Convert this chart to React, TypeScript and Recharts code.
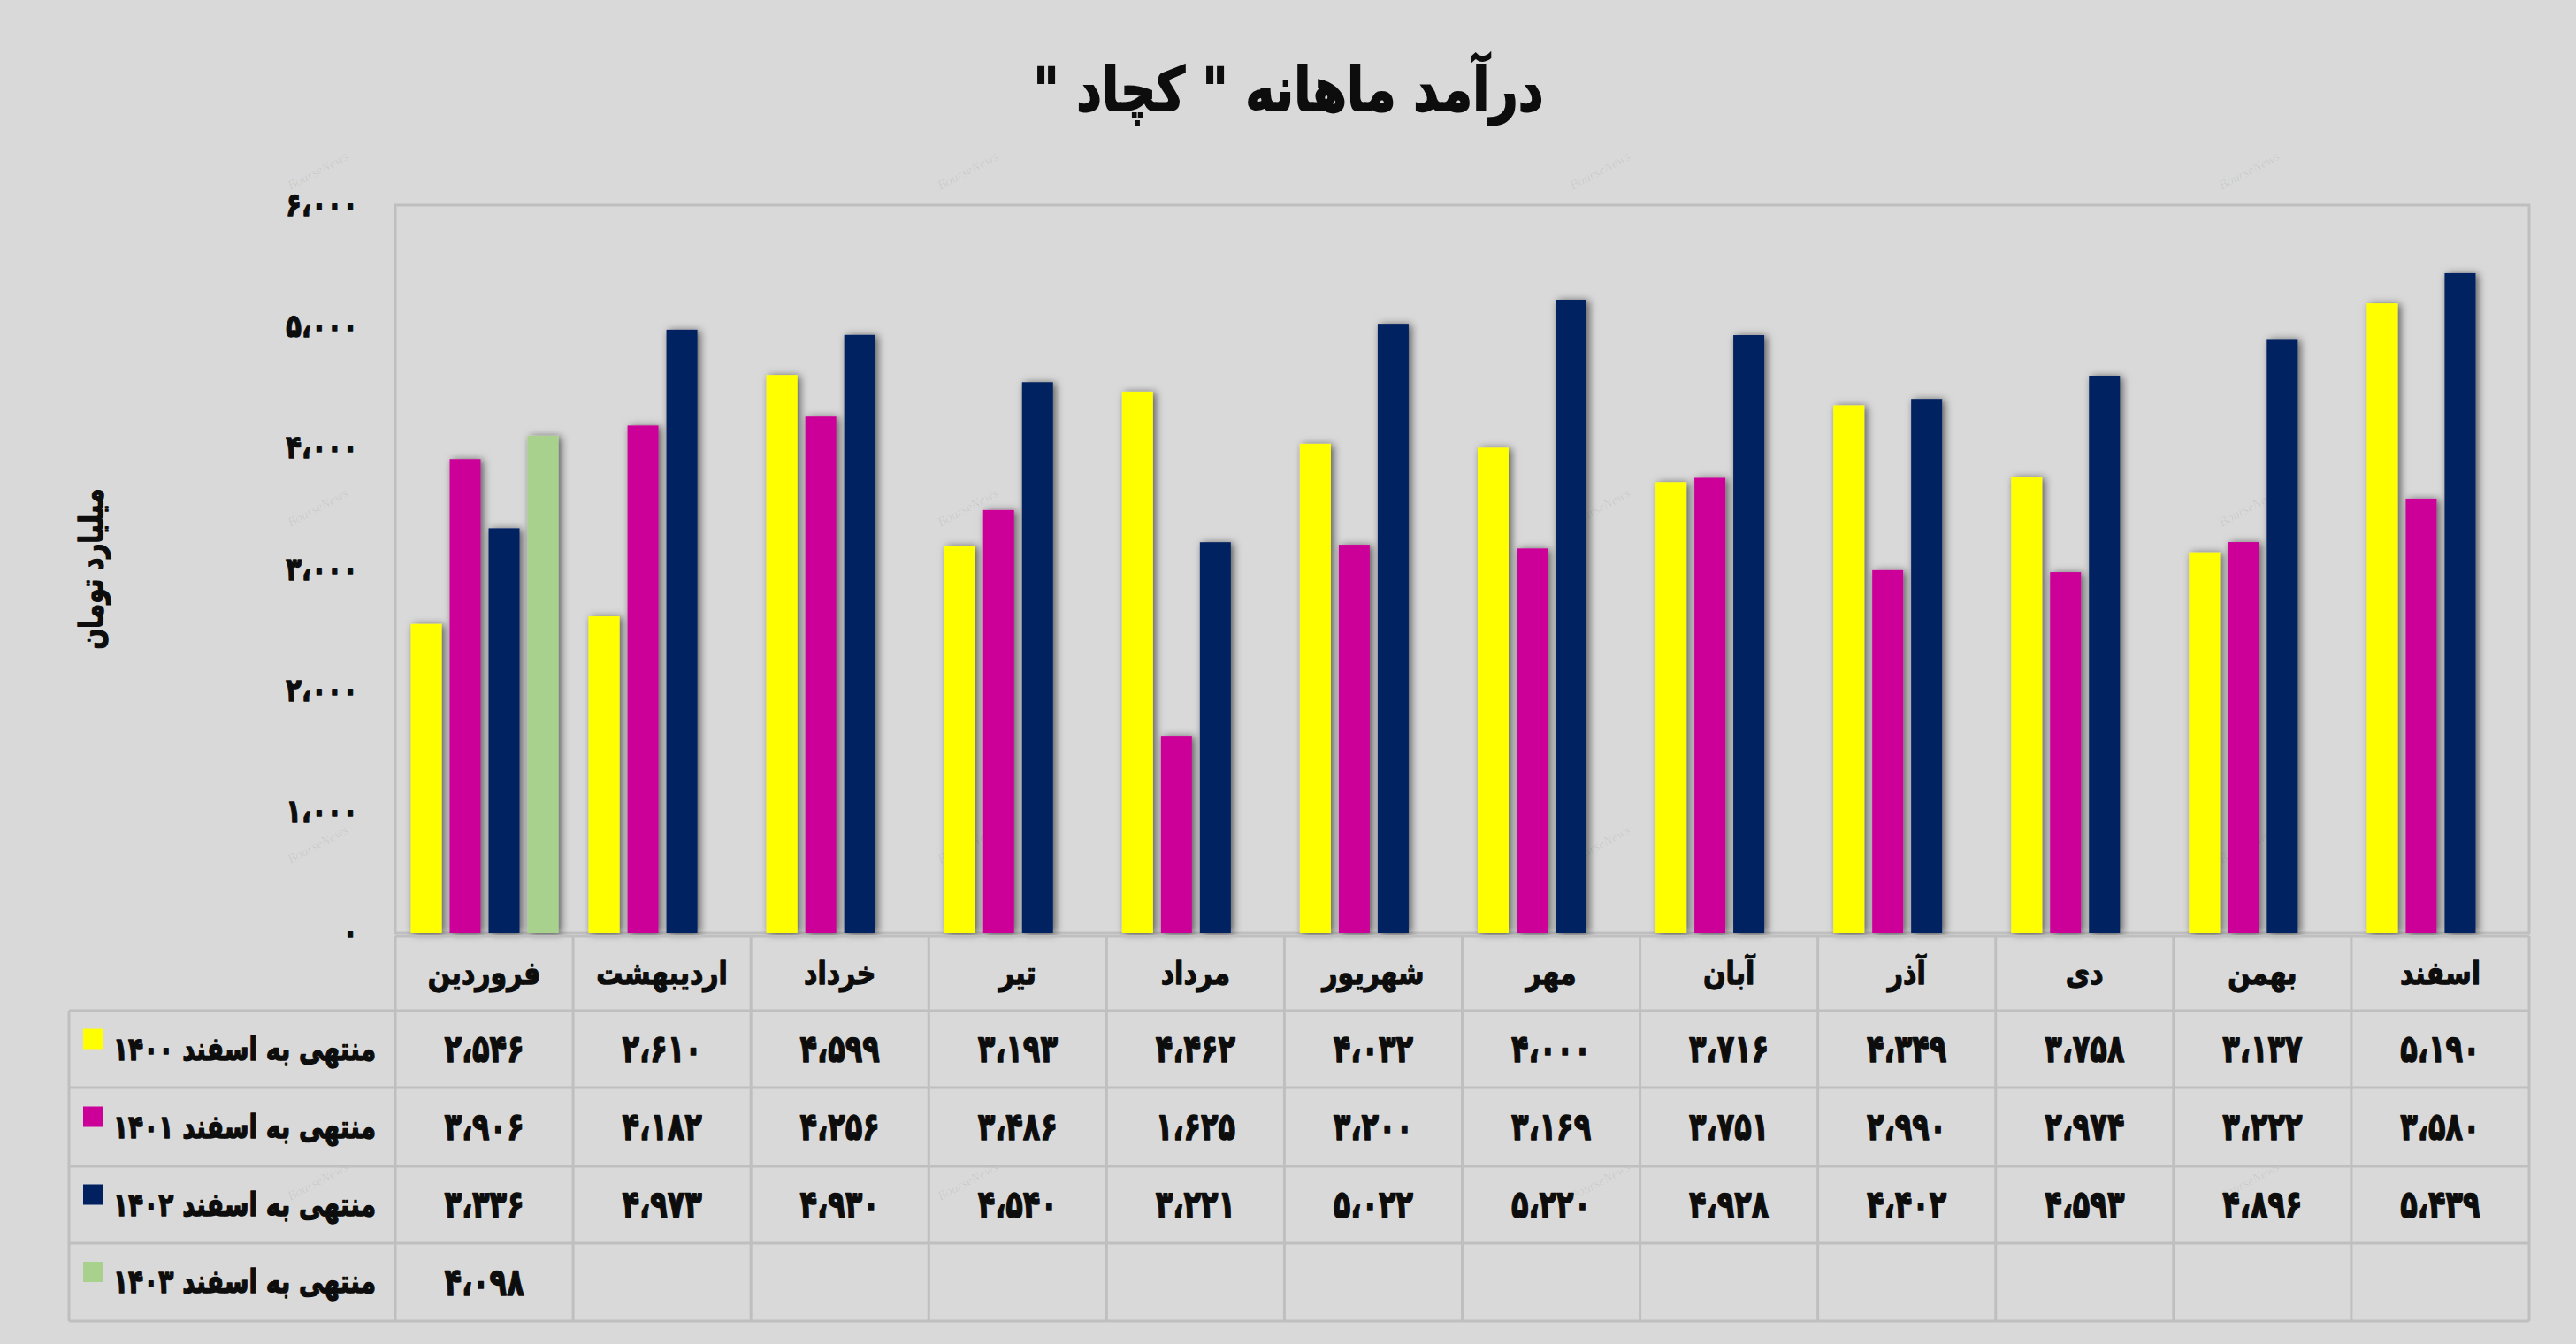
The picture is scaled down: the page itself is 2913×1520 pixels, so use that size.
import React from 'react';
import { BarChart, Bar, XAxis, YAxis, ReferenceArea } from 'recharts';

// ---------- data ----------
const months = ['فروردین', 'اردیبهشت', 'خرداد', 'تیر', 'مرداد', 'شهریور', 'مهر', 'آبان', 'آذر', 'دی', 'بهمن', 'اسفند'];
const s1400 = [2546, 2610, 4599, 3193, 4462, 4032, 4000, 3716, 4349, 3758, 3137, 5190];
const s1401 = [3906, 4182, 4256, 3486, 1625, 3200, 3169, 3751, 2990, 2974, 3222, 3580];
const s1402 = [3336, 4973, 4930, 4540, 3221, 5022, 5220, 4928, 4402, 4593, 4896, 5439];
const s1403 = [4098, null, null, null, null, null, null, null, null, null, null, null];
const seriesNames = ['منتهی به اسفند ۱۴۰۰', 'منتهی به اسفند ۱۴۰۱', 'منتهی به اسفند ۱۴۰۲', 'منتهی به اسفند ۱۴۰۳'];
const seriesKeys = ['y1400', 'y1401', 'y1402', 'y1403'];
const seriesColors = ['#FFFF00', '#CC0099', '#002060', '#A9D18E'];
const yTicks = [0, 1000, 2000, 3000, 4000, 5000, 6000];
const titleText = 'درآمد ماهانه " کچاد "';
const yAxisTitle = 'میلیارد تومان';
const watermark = 'BourseNews';

const seriesValues = [s1400, s1401, s1402, s1403];
const data = months.map((m, i) => ({
  month: m,
  y1400: s1400[i],
  y1401: s1401[i],
  y1402: s1402[i],
  y1403: s1403[i],
}));

// ---------- layout ----------
const W = 2913;
const H = 1520;
const M_LEFT = 447;
const M_RIGHT = 53;
const M_TOP = 232;
const M_BOTTOM = 25;
const X_AXIS_H = 440;
const PLOT_W = W - M_LEFT - M_RIGHT;
const COL_W = PLOT_W / months.length;
const LEGEND_LEFT = 78;
const FONT = '"DejaVu Sans", sans-serif';
const TEXT = '#0d0d0d';
const GRID = '#bfbfbf';
// row boundaries relative to x-axis top
const ROW_EDGES = [4, 88, 175, 264, 351, 439];

const faDigits = '۰۱۲۳۴۵۶۷۸۹';
const toFa = (n: number) =>
  n.toLocaleString('en-US').replace(/,/g, '،').replace(/\d/g, (d) => faDigits[+d]);

// heavy, slightly tall text to approximate the original bold Persian face
const HeavyText = ({ x, y, anchor = 'middle', size, sy = 1.3, sw = 1.1, children }: any) => (
  <text transform={`translate(${x} ${y}) scale(1 ${sy})`} x={0} y={0} textAnchor={anchor} dominantBaseline="central"
    stroke={TEXT} strokeWidth={sw} strokeLinejoin="round"
    style={{ fontFamily: FONT, fontWeight: 700, fontSize: size, fill: TEXT }}>{children}</text>
);

const TableColumn = (props: any) => {
  const { x, y, payload } = props;
  const i = payload.index;
  const left = x - COL_W / 2;
  const right = x + COL_W / 2;
  const top = y + ROW_EDGES[0];
  const bottom = y + ROW_EDGES[ROW_EDGES.length - 1];
  const els: any[] = [];
  els.push(
    <HeavyText key="h" x={x} y={(2 * y + ROW_EDGES[0] + ROW_EDGES[1]) / 2} size={30} sy={1.2}>{payload.value}</HeavyText>
  );
  ROW_EDGES.forEach((e, k) => {
    els.push(<line key={'hl' + k} x1={left} x2={right} y1={y + e} y2={y + e} stroke={GRID} strokeWidth={3} />);
  });
  els.push(<line key="vl" x1={left} x2={left} y1={top} y2={bottom} stroke={GRID} strokeWidth={3} />);
  if (i === months.length - 1) {
    els.push(<line key="vr" x1={right} x2={right} y1={top} y2={bottom} stroke={GRID} strokeWidth={3} />);
  }
  seriesValues.forEach((vals, r) => {
    const v = vals[i];
    if (v == null) return;
    const cy = y + (ROW_EDGES[r + 1] + ROW_EDGES[r + 2]) / 2;
    els.push(<HeavyText key={'v' + r} x={x} y={cy} size={32} sy={1.35}>{toFa(v)}</HeavyText>);
  });
  if (i === 0) {
    ROW_EDGES.slice(1).forEach((e, k) => {
      els.push(<line key={'lg' + k} x1={LEGEND_LEFT} x2={left} y1={y + e} y2={y + e} stroke={GRID} strokeWidth={3} />);
    });
    els.push(<line key="lgv" x1={LEGEND_LEFT} x2={LEGEND_LEFT} y1={y + ROW_EDGES[1]} y2={bottom} stroke={GRID} strokeWidth={3} />);
    seriesNames.forEach((name, r) => {
      const cy = y + (ROW_EDGES[r + 1] + ROW_EDGES[r + 2]) / 2;
      els.push(<rect key={'sq' + r} x={LEGEND_LEFT + 16} y={cy - 23} width={23} height={23} fill={seriesColors[r]} />);
      els.push(<HeavyText key={'ln' + r} x={left - 22} y={cy} anchor="end" size={28} sy={1.3}>{name}</HeavyText>);
    });
  }
  return <g>{els}</g>;
};

const YTick = (props: any) => {
  const { x, y, payload } = props;
  return <HeavyText x={x} y={y} anchor="end" size={29} sy={1.25}>{toFa(payload.value)}</HeavyText>;
};

const ShadowBar = (props: any) => {
  const { x, y, width, height, fill } = props;
  if (!height || height <= 0) return <g />;
  return <rect x={x} y={y} width={width} height={height} fill={fill} filter="url(#barShadow)" />;
};

const YTitle = (props: any) => {
  const vb = props.viewBox || { y: M_TOP, height: H - M_TOP - M_BOTTOM - X_AXIS_H };
  const cx = 104;
  const cy = vb.y + vb.height / 2;
  return (
    <g transform={`rotate(-90 ${cx} ${cy})`}>
      <HeavyText x={cx} y={cy} size={28} sy={1.3}>{yAxisTitle}</HeavyText>
    </g>
  );
};

const wmX = [362, 1097, 1812, 2546];
const wmY = [195, 576, 957, 1338];

export default function App() {
  return (
    <div style={{ position: 'absolute', left: 0, top: 0, width: W, height: H, background: '#d9d9d9', overflow: 'hidden' }}>
      <svg width={0} height={0} style={{ position: 'absolute' }}>
        <defs>
          <filter id="barShadow" x="-50%" y="-10%" width="200%" height="120%">
            <feDropShadow dx={3} dy={1} stdDeviation={5} floodColor="#000" floodOpacity={0.6} />
          </filter>
        </defs>
      </svg>
      <div style={{ position: 'absolute', left: 957, width: 1000, top: 62, textAlign: 'center', direction: 'rtl',
        fontFamily: FONT, fontWeight: 700, fontSize: 56, lineHeight: '80px', color: TEXT,
        WebkitTextStroke: '1.5px ' + TEXT, transform: 'scaleY(1.22)', transformOrigin: '50% 50%' }}>{titleText}</div>
      {wmY.map((yy) => wmX.map((xx) => (
        <div key={xx + '-' + yy} style={{ position: 'absolute', left: xx - 40, top: yy - 10, transform: 'rotate(-28deg)',
          fontFamily: '"Liberation Serif", serif', fontStyle: 'italic', fontSize: 15, color: 'rgba(0,0,0,0.07)' }}>{watermark}</div>
      )))}
      <div style={{ position: 'absolute', left: 0, top: 0 }}>
        <BarChart width={W} height={H} data={data} margin={{ top: M_TOP, right: M_RIGHT, bottom: M_BOTTOM, left: 0 }}
          barCategoryGap={17.5} barGap={9}>
          <XAxis dataKey="month" height={X_AXIS_H} tickSize={0} tickMargin={0} axisLine={false} tickLine={false}
            interval={0} tick={<TableColumn />} />
          <YAxis width={M_LEFT} domain={[0, 6000]} ticks={yTicks} interval={0} tickSize={0} tickMargin={42}
            axisLine={false} tickLine={false} tick={<YTick />} label={<YTitle />} />
          <ReferenceArea x1={months[0]} x2={months[months.length - 1]} y1={0} y2={6000} fill="none"
            stroke={GRID} strokeWidth={3} ifOverflow="visible" />
          {seriesKeys.map((k, idx) => (
            <Bar key={k} dataKey={k} name={seriesNames[idx]} fill={seriesColors[idx]} isAnimationActive={false}
              shape={<ShadowBar />} />
          ))}
        </BarChart>
      </div>
    </div>
  );
}
